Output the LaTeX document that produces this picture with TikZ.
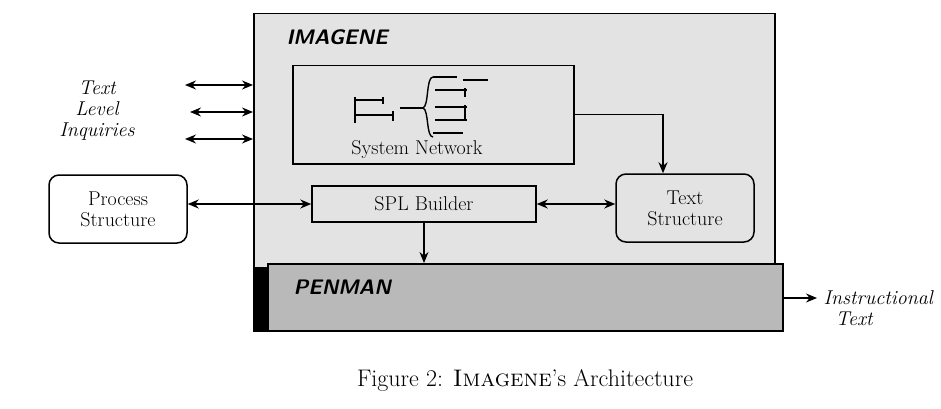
\documentclass[tikz,border=0pt]{standalone}
\usepackage{fontspec}
\usetikzlibrary{positioning,arrows.meta}
\begin{document}
\begin{tikzpicture}[x=1pt,y=-1pt,
  box/.style={draw,line width=1.5pt,inner sep=0pt,font=\fontsize{20}{21}\selectfont},
  rbox/.style={box,rounded corners=10pt,align=center,minimum width=138pt,minimum height=68pt},
  lbl/.style={font=\fontsize{20}{21}\selectfont\itshape,align=center},
  title/.style={font=\fontsize{21}{23}\selectfont\sffamily\bfseries\itshape,anchor=west},
  link/.style={line width=1.4pt,-{Stealth[length=11pt,width=9pt]}},
  twoway/.style={link,{Stealth[length=11pt,width=9pt]}-{Stealth[length=11pt,width=9pt]}}]
\useasboundingbox (0,0) rectangle (941,409);
\node [box,fill=gray!22,minimum width=521pt,minimum height=317pt,anchor=north west] (imagene) at (253,13) {};
\node [title] at (283,37) {IMAGENE};
\node [box,fill=gray!55,minimum width=515pt,minimum height=67pt,anchor=north west] (penman) at (267,263) {};
\fill (253,267) rectangle (267,330);
\node [title] at (290,287) {PENMAN};
\node [box,minimum width=281pt,minimum height=98pt,anchor=north west] (sysnet) at (292,65) {};
\node [font=\fontsize{20}{21}\selectfont] at (417,150) {System Network};
\begin{scope}[line width=1.4pt]
  \draw (355,97) -- (355,123);
  \draw (355,100) -- (383,100) (383,97) -- (383,104);
  \draw (355,115) -- (393,115) (393,111) -- (393,121);
  \draw (400,108) -- (423,108);
  \draw (433,77) .. controls (426,77) and (429,106) .. (423,108) .. controls (429,110) and (426,137) .. (433,137);
  \draw (433,77) -- (457,77) (463,80) -- (488,80);
  \draw (435,90) -- (467,90) (465,88) -- (465,97);
  \draw (435,107) -- (467,107) (465,105) -- (465,121);
  \draw (435,120) -- (467,120);
  \draw (433,133) -- (463,133);
\end{scope}
\node [box,minimum width=224pt,minimum height=36pt] (spl) at (424,204) {SPL Builder};
\node [rbox] (textstr) at (685,208) {Text\\Structure};
\node [rbox,fill=white] (process) at (118,209) {Process\\Structure};
\node [lbl] (inq) at (97,111) {Text\\Level\\Inquiries};
\foreach \y/\x in {85/185,112/190,139/185}{
  \coordinate (q\y) at (\x,\y);
  \draw [twoway] (q\y) -- (q\y -| imagene.west);
}
\draw [link] (sysnet.east) -| ([xshift=-22pt]textstr.north);
\draw [twoway] (process.east |- spl.west) -- (spl.west);
\draw [twoway] (spl.east) -- (spl.east -| textstr.west);
\draw [link] (spl.south) -- (spl.south |- penman.north);
\coordinate (out) at (817,298);
\draw [link] (penman.east |- out) -- (out);
\node [lbl,align=left,anchor=west] (insttext) at (820,308) {Instructional\\\hspace*{12pt}Text};
\node [font=\fontsize{24}{26}\selectfont] (caption) at (525,380) {Figure 2: \textsc{Imagene}'s Architecture};
\end{tikzpicture}
\end{document}
